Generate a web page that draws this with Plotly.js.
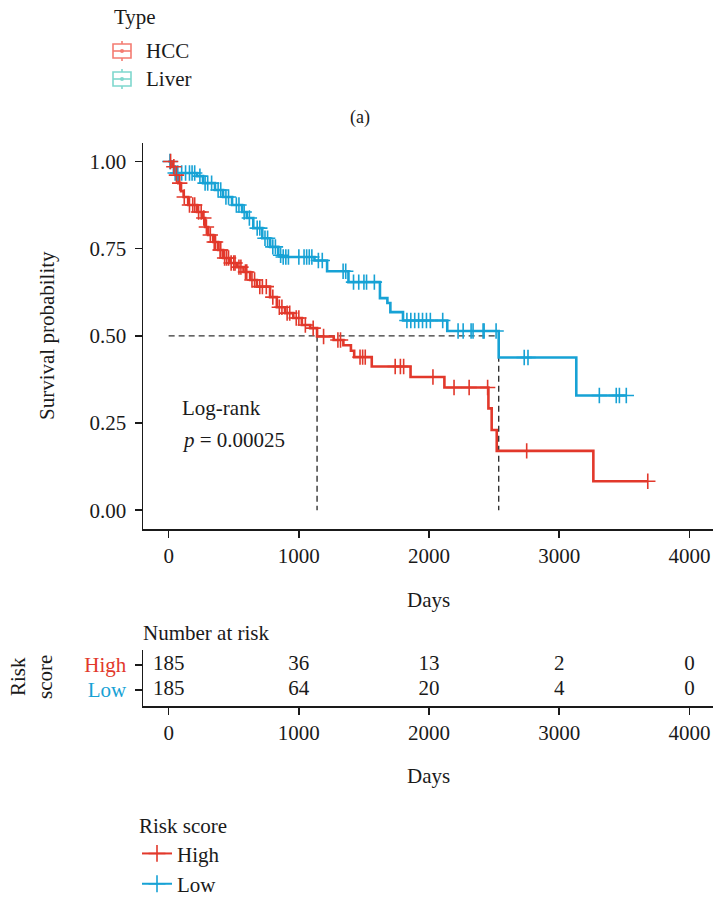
<!DOCTYPE html>
<html>
<head>
<meta charset="utf-8">
<script src="https://cdn.plot.ly/plotly-3.0.1.min.js"></script>
<style>
  html, body { margin: 0; padding: 0; background: #fff; }
  #chart { width: 713px; height: 899px; }
</style>
</head>
<body>
<div id="chart"></div>
<script>
// Kaplan-Meier estimates per risk group: event times (days) and survival after each event
const highTimes = [0, 30, 55, 75, 95, 115, 150, 218, 264, 280, 303, 342, 380, 418, 470, 524, 575, 626, 678, 779, 831, 894, 957, 1023, 1087, 1140, 1268, 1342, 1400, 1425, 1560, 1858, 2118, 2456, 2481, 2520, 3262];
const highSurv  = [1.000, 0.985, 0.961, 0.938, 0.915, 0.898, 0.875, 0.855, 0.838, 0.812, 0.789, 0.769, 0.746, 0.723, 0.709, 0.697, 0.683, 0.660, 0.641, 0.611, 0.582, 0.565, 0.551, 0.531, 0.522, 0.498, 0.488, 0.473, 0.457, 0.439, 0.412, 0.382, 0.352, 0.292, 0.230, 0.170, 0.083];
const highCensor = [15, 40, 60, 85, 120, 160, 185, 200, 230, 250, 270, 290, 320, 350, 360, 395, 400, 430, 445, 460, 480, 500, 510, 540, 555, 590, 600, 640, 660, 700, 720, 750, 800, 850, 870, 910, 930, 980, 1000, 1050, 1110, 1190, 1300, 1320, 1470, 1490, 1510, 1740, 1780, 1805, 2030, 2192, 2308, 2450, 2750, 3680];

const lowTimes = [0, 25, 40, 218, 264, 356, 418, 487, 564, 600, 650, 719, 780, 842, 873, 1120, 1217, 1381, 1623, 1680, 1703, 1800, 2140, 2535, 3131];
const lowSurv  = [1.000, 0.985, 0.967, 0.958, 0.938, 0.918, 0.898, 0.875, 0.855, 0.838, 0.809, 0.780, 0.755, 0.731, 0.726, 0.716, 0.685, 0.654, 0.608, 0.594, 0.568, 0.544, 0.514, 0.438, 0.329];
const lowCensor = [10, 50, 70, 100, 130, 160, 180, 200, 240, 280, 300, 330, 380, 400, 440, 460, 520, 540, 580, 620, 680, 700, 740, 760, 800, 820, 860, 880, 900, 920, 1000, 1040, 1060, 1080, 1100, 1150, 1180, 1340, 1360, 1420, 1460, 1500, 1520, 1580, 1830, 1860, 1890, 1920, 1950, 1980, 2010, 2105, 2223, 2262, 2323, 2338, 2415, 2423, 2515, 2731, 2760, 3308, 3438, 3462, 3515];

// Number-at-risk table
const riskTimes = [0, 1000, 2000, 3000, 4000];
const riskHigh = [185, 36, 13, 2, 0];
const riskLow  = [185, 64, 20, 4, 0];

const groupNames = ['High', 'Low'];
const typeNames = ['HCC', 'Liver'];

const RED = '#E2382B';
const BLUE = '#17A2D5';
const INK = '#1a1a1a';
const FONT = '"Liberation Serif", "DejaVu Serif", serif';
const FS = 21;

function survAt(times, surv, t) {
  let s = surv[0];
  for (let i = 0; i < times.length; i++) { if (times[i] <= t) s = surv[i]; }
  return s;
}
function medianTime(times, surv) {
  for (let i = 0; i < times.length; i++) { if (surv[i] <= 0.5) return times[i]; }
  return null;
}

function stepTrace(times, surv, censor, color) {
  const end = Math.max(...censor);
  return {
    x: times.concat([end]), y: surv.concat([surv[surv.length - 1]]),
    mode: 'lines', line: {shape: 'hv', color: color, width: 2.6},
    xaxis: 'x', yaxis: 'y', showlegend: false, hoverinfo: 'skip'
  };
}
function censorTrace(times, surv, censor, color) {
  return {
    x: censor, y: censor.map(t => survAt(times, surv, t)),
    mode: 'markers',
    marker: {symbol: 'cross-thin-open', size: 11, color: color, line: {color: color, width: 1.6}},
    xaxis: 'x', yaxis: 'y', showlegend: false, hoverinfo: 'skip'
  };
}

const medHigh = medianTime(highTimes, highSurv);
const medLow = medianTime(lowTimes, lowSurv);

const medianLines = {
  x: [0, medLow, medLow, null, medHigh, medHigh],
  y: [0.5, 0.5, 0, null, 0.5, 0],
  mode: 'lines', line: {color: '#333', width: 1.4, dash: '6px,4px'},
  xaxis: 'x', yaxis: 'y', showlegend: false, hoverinfo: 'skip'
};

const legendEntry = (name, color) => ({
  x: [null], y: [null], name: name, mode: 'lines+markers',
  line: {color: color, width: 2},
  marker: {symbol: 'cross-thin-open', size: 12, color: color, line: {color: color, width: 1.6}},
  xaxis: 'x', yaxis: 'y', legend: 'legend'
});

const tableTrace = {
  x: riskTimes.concat(riskTimes),
  y: riskTimes.map(() => 2).concat(riskTimes.map(() => 1)),
  text: riskHigh.concat(riskLow).map(String),
  mode: 'text', textfont: {family: FONT, size: FS, color: INK},
  xaxis: 'x2', yaxis: 'y2', showlegend: false, hoverinfo: 'skip'
};

const data = [
  medianLines,
  stepTrace(lowTimes, lowSurv, lowCensor, BLUE),
  stepTrace(highTimes, highSurv, highCensor, RED),
  censorTrace(lowTimes, lowSurv, lowCensor, BLUE),
  censorTrace(highTimes, highSurv, highCensor, RED),
  legendEntry(groupNames[0], RED),
  legendEntry(groupNames[1], BLUE),
  tableTrace
];

const W = 713, H = 899;
const px = v => v / W;
const py = v => 1 - v / H;

const axisCommon = {
  showline: true, linecolor: INK, linewidth: 1.5, mirror: false,
  ticks: 'outside', ticklen: 7, tickwidth: 1.5, tickcolor: INK,
  showgrid: false, zeroline: false,
  tickfont: {family: FONT, size: FS, color: INK}
};

// "Type" key with box glyphs
const typeColors = ['#F47C72', '#7FD8CE'];
const typeRows = [51, 79];
const shapes = [];
const annotations = [];
typeNames.forEach((nm, i) => {
  const c = typeColors[i], yc = typeRows[i];
  const x0 = 113, x1 = 131, xm = 122;
  shapes.push({type: 'rect', xref: 'paper', yref: 'paper', x0: px(x0), x1: px(x1), y0: py(yc + 7), y1: py(yc - 7), line: {color: c, width: 1.6}, fillcolor: 'rgba(0,0,0,0)'});
  shapes.push({type: 'line', xref: 'paper', yref: 'paper', x0: px(x0), x1: px(x1), y0: py(yc), y1: py(yc), line: {color: c, width: 1.6}});
  shapes.push({type: 'line', xref: 'paper', yref: 'paper', x0: px(xm), x1: px(xm), y0: py(yc - 10), y1: py(yc - 7), line: {color: c, width: 1.6}});
  shapes.push({type: 'line', xref: 'paper', yref: 'paper', x0: px(xm), x1: px(xm), y0: py(yc + 7), y1: py(yc + 10), line: {color: c, width: 1.6}});
  shapes.push({type: 'circle', xref: 'paper', yref: 'paper', x0: px(xm - 2), x1: px(xm + 2), y0: py(yc + 2), y1: py(yc - 2), line: {color: c, width: 0}, fillcolor: c});
  annotations.push({text: nm, xref: 'paper', yref: 'paper', x: px(144), y: py(yc), xanchor: 'left', yanchor: 'middle', showarrow: false, font: {family: FONT, size: FS, color: INK}});
});
annotations.push({text: 'Type', xref: 'paper', yref: 'paper', x: px(112), y: py(17), xanchor: 'left', yanchor: 'middle', showarrow: false, font: {family: FONT, size: FS, color: INK}});

annotations.push(
  {text: 'Survival probability', xref: 'paper', yref: 'paper', x: px(47), y: py(336), textangle: -90, xanchor: 'center', yanchor: 'middle', showarrow: false, font: {family: FONT, size: FS, color: INK}},
  {text: 'Days', xref: 'paper', yref: 'paper', x: px(428), y: py(600), xanchor: 'center', yanchor: 'middle', showarrow: false, font: {family: FONT, size: FS, color: INK}},
  {text: 'Log-rank', xref: 'x', yref: 'y', x: 85, y: 0.293, xanchor: 'left', yanchor: 'middle', showarrow: false, font: {family: FONT, size: FS, color: INK}},
  {text: '<i>p</i> = 0.00025', xref: 'x', yref: 'y', x: 85, y: 0.20, xanchor: 'left', yanchor: 'middle', showarrow: false, font: {family: FONT, size: FS, color: INK}},
  {text: 'Number at risk', xref: 'paper', yref: 'paper', x: px(141), y: py(633), xanchor: 'left', yanchor: 'middle', showarrow: false, font: {family: FONT, size: FS, color: INK}},
  {text: 'Risk<br>score', xref: 'paper', yref: 'paper', x: px(31), y: py(677), textangle: -90, xanchor: 'center', yanchor: 'middle', showarrow: false, font: {family: FONT, size: FS, color: INK}},
  {text: 'Days', xref: 'paper', yref: 'paper', x: px(428), y: py(776), xanchor: 'center', yanchor: 'middle', showarrow: false, font: {family: FONT, size: FS, color: INK}}
);

const layout = {
  width: W, height: H,
  margin: {l: 0, r: 0, t: 0, b: 0, autoexpand: false},
  paper_bgcolor: '#fff', plot_bgcolor: '#fff',
  font: {family: FONT, size: FS, color: INK},
  title: {text: '(a)', x: px(360), xanchor: 'center', y: py(117), yanchor: 'middle', font: {family: FONT, size: 18, color: INK}},
  xaxis: Object.assign({}, axisCommon, {domain: [px(143), 1], range: [-197, 4181], tickvals: riskTimes, anchor: 'y'}),
  yaxis: Object.assign({}, axisCommon, {domain: [py(529), py(143)], range: [-0.054, 1.053], tickvals: [0, 0.25, 0.5, 0.75, 1], tickformat: '.2f', anchor: 'x', ticklabelstandoff: 4}),
  xaxis2: Object.assign({}, axisCommon, {domain: [px(143), 1], range: [-197, 4181], tickvals: riskTimes, anchor: 'y2'}),
  yaxis2: Object.assign({}, axisCommon, {domain: [py(706), py(650)], range: [0.36, 2.6], tickvals: [2, 1], ticklabelstandoff: 4,
    ticktext: ['<span style="color:' + RED + '">' + groupNames[0] + '</span>', '<span style="color:' + BLUE + '">' + groupNames[1] + '</span>'], anchor: 'x2'}),
  legend: {
    x: px(137), y: py(806), xanchor: 'left', yanchor: 'top',
    title: {text: 'Risk score', font: {family: FONT, size: FS, color: INK}},
    font: {family: FONT, size: FS, color: INK}, bgcolor: 'rgba(0,0,0,0)',
    itemwidth: 30, tracegroupgap: 0
  },
  shapes: shapes,
  annotations: annotations,
  showlegend: true
};

Plotly.newPlot('chart', data, layout, {staticPlot: true, displayModeBar: false});
</script>
</body>
</html>
